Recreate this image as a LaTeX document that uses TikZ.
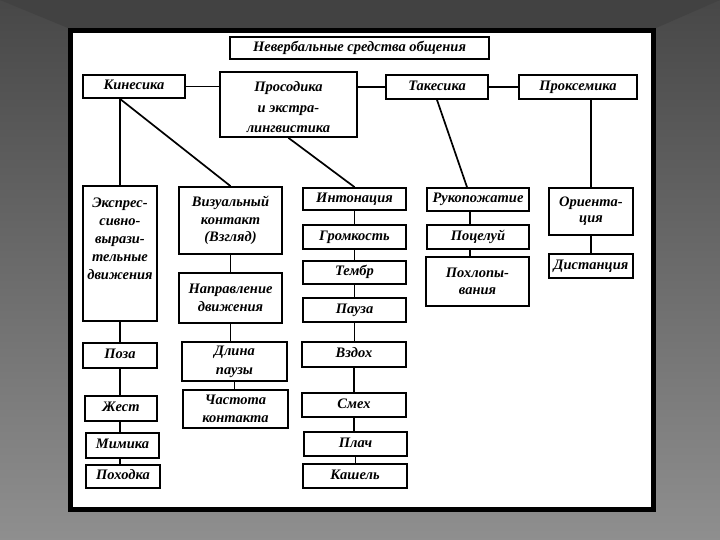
\documentclass[tikz,border=0pt]{standalone}
\usepackage{fontspec}
\setmainfont{Liberation Serif}
\begin{document}
\begin{tikzpicture}[x=1pt,y=-1pt,
  box/.style={draw=black, line width=1.8pt, fill=white, inner sep=0pt, align=center,
     font=\fontsize{14.5}{17.5}\selectfont\bfseries\itshape},
  one/.style={text height=10pt, text depth=3.2pt},
  txt/.style={inner sep=0pt, align=center, font=\fontsize{14.5}{18}\selectfont\bfseries\itshape},
  link/.style={draw=black, line width=1.7pt}]
\useasboundingbox (0,0) rectangle (720,540);
% background
\shade[top color=black!72, bottom color=black!44] (0,0) rectangle (720,540);
\fill[black!74] (0,0) -- (720,0) -- (656,28) -- (68,28) -- cycle;
\fill[white] (68,28) rectangle (656,512);
\draw[black, line width=5pt] (70.5,30.5) rectangle (653.5,509.5);
% top row
\node[box, one, minimum width=259, minimum height=22] (title) at (359.5,48) {Невербальные средства общения};
\node[box, one, minimum width=102, minimum height=23] (kin) at (134,86.5) {Кинесика};
\node[box, minimum width=137, minimum height=65] (pros) at (288.5,104.5) {};
\node[txt, font=\fontsize{14.5}{20.5}\selectfont\bfseries\itshape] (prost) at ([yshift=-3]pros.center) {Просодика\\и экстра-\\лингвистика};
\node[box, one, minimum width=102, minimum height=24] (tak) at (437,87) {Такесика};
\node[box, one, minimum width=118, minimum height=24] (prox) at (578,87) {Проксемика};
% column 1
\node[box, minimum width=74, minimum height=135, anchor=north] (expr) at (120,185) {};
\node[txt, anchor=north] (exprt) at ([yshift=-13]expr.north) {Экспрес-\\сивно-\\вырази-\\тельные\\движения};
\node[box, one, minimum width=74, minimum height=25] (poza) at (120,355.5) {Поза};
\node[box, one, minimum width=72, minimum height=25] (zhest) at (121,408.5) {Жест};
\node[box, one, minimum width=73, minimum height=25] (mimika) at (122.5,445.5) {Мимика};
\node[box, one, minimum width=74, minimum height=23] (pohodka) at (123,476.5) {Походка};
% column 2
\node[box, minimum width=103, minimum height=67] (vis) at (230.5,220.5) {Визуальный\\контакт\\(Взгляд)};
\node[box, minimum width=103, minimum height=50] (napr) at (230.5,298) {Направление\\движения};
\node[box, minimum width=105, minimum height=39, font=\fontsize{14.5}{19}\selectfont\bfseries\itshape] (dlina) at (234.5,361.5) {Длина\\паузы};
\node[box, minimum width=105, minimum height=38] (chast) at (235.5,409) {Частота\\контакта};
% column 3
\node[box, one, minimum width=103, minimum height=22] (int) at (354.5,199) {Интонация};
\node[box, one, minimum width=103, minimum height=24] (grom) at (354.5,237) {Громкость};
\node[box, one, minimum width=103, minimum height=23] (temb) at (354.5,272.5) {Тембр};
\node[box, one, minimum width=103, minimum height=24] (pauza) at (354.5,310) {Пауза};
\node[box, one, minimum width=104, minimum height=25] (vzdoh) at (354,354.5) {Вздох};
\node[box, one, minimum width=104, minimum height=24] (smeh) at (354,405) {Смех};
\node[box, one, minimum width=103, minimum height=24] (plach) at (355.5,444) {Плач};
\node[box, one, minimum width=104, minimum height=24] (kash) at (355,476) {Кашель};
% column 4
\node[box, one, minimum width=102, minimum height=23] (ruk) at (478,199.5) {Рукопожатие};
\node[box, one, minimum width=102, minimum height=24] (poc) at (478,237) {Поцелуй};
\node[box, minimum width=103, minimum height=49, font=\fontsize{14.5}{16.5}\selectfont\bfseries\itshape] (pohl) at (477.5,281.5) {Похлопы-\\вания};
% column 5
\node[box, minimum width=84, minimum height=47, font=\fontsize{14.5}{16}\selectfont\bfseries\itshape] (orient) at (591,211.5) {Ориента-\\ция};
\node[box, one, minimum width=84, minimum height=24] (dist) at (591,266) {Дистанция};
% connectors
\draw[link] (kin.east) -- (pros.west |- kin.east);
\draw[link] (pros.east |- tak.west) -- (tak.west);
\draw[link] (tak.east) -- (prox.west);
\coordinate (kinfoot) at (expr.north |- kin.south);
\draw[link] (kinfoot) -- (expr.north);
\draw[link] (kinfoot) -- (vis.north);
\draw[link] (pros.south) -- (int.north);
\draw[link] (tak.south) -- ([xshift=-11]ruk.north);
\draw[link] (prox.south -| orient.north) -- (orient.north);
\draw[link] (expr.south) -- (poza.north);
\draw[link] (poza.south) -- (poza.south |- zhest.north);
\draw[link] (zhest.south -| poza.south) -- (mimika.north -| poza.south);
\draw[link] (mimika.south -| poza.south) -- (pohodka.north -| poza.south);
\draw[link] (vis.south) -- (napr.north);
\draw[link] (napr.south) -- (napr.south |- dlina.north);
\draw[link] (dlina.south) -- (dlina.south |- chast.north);
\foreach \a/\b in {int/grom,grom/temb,temb/pauza,pauza/vzdoh,vzdoh/smeh,smeh/plach,plach/kash}
  \draw[link] (\a.south) -- (\a.south |- \b.north);
\draw[link] ([xshift=-8]ruk.south) -- ([xshift=-8]poc.north);
\draw[link] ([xshift=-8]poc.south) -- ([xshift=-8]poc.south |- pohl.north);
\draw[link] (orient.south) -- (dist.north);
\end{tikzpicture}
\end{document}
